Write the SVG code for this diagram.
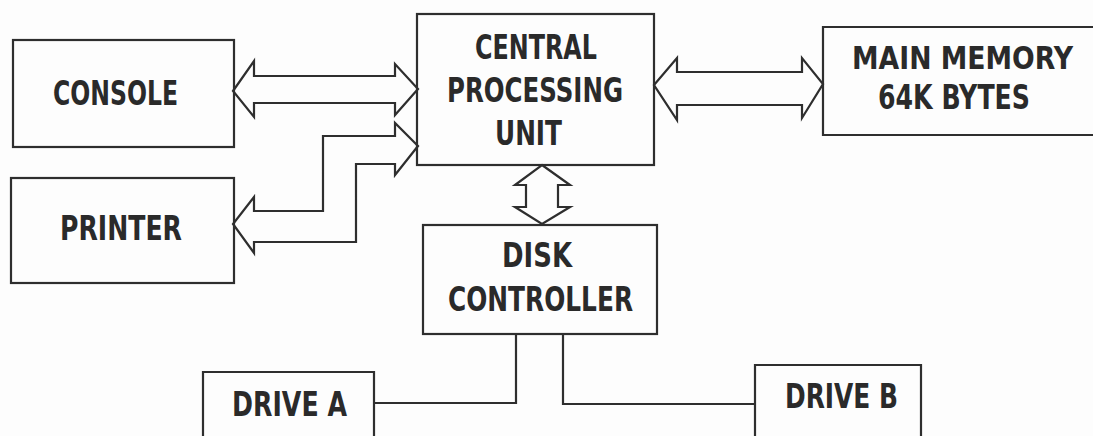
<svg xmlns="http://www.w3.org/2000/svg" width="1093" height="436" viewBox="0 0 1093 436">
<style>
.box{fill:none;stroke:#2e2e2e;stroke-width:2.2}
.con{fill:none;stroke:#2e2e2e;stroke-width:2.2;stroke-linejoin:miter}
.lbl{font-family:"DejaVu Sans Condensed","Liberation Sans",sans-serif;font-weight:bold;font-size:33px;fill:#2a2a2a}
.sm{font-size:32px}
</style>
<rect x="0" y="0" width="1093" height="436" fill="#fdfdfd"/>
<g id="connectors">
<polygon class="con" points="233,91 254,61 254,76 395,76 395,64 418,89 395,115 395,103 254,103 254,117"/>
<polygon class="con" points="418,146 395,123 395,136 323,136 323,211 254,211 254,197 233,224 254,253 254,242 356,242 356,164 395,164 395,175"/>
<polygon class="con" points="654,85 677,58 677,72 802,72 802,58 823,84 802,118 802,105 677,105 677,120"/>
<polygon class="con" points="542,165 570,185 558,185 558,207 570,207 542,224 515,207 526,207 526,185 515,185"/>
<polyline class="con" points="516,334 516,403 374,403"/>
<polyline class="con" points="563,334 563,404 755,404"/>
</g>
<g id="console">
<rect class="box" x="13" y="40" width="221" height="107"/>
<text class="lbl" x="53" y="105" textLength="125" lengthAdjust="spacingAndGlyphs">CONSOLE</text>
</g>
<g id="printer">
<rect class="box" x="11" y="178" width="223" height="105"/>
<text class="lbl" x="60" y="240" textLength="122" lengthAdjust="spacingAndGlyphs">PRINTER</text>
</g>
<g id="cpu">
<rect class="box" x="417" y="14" width="237" height="151"/>
<text class="lbl" x="475" y="59" textLength="122" lengthAdjust="spacingAndGlyphs">CENTRAL</text>
<text class="lbl" x="447" y="102" textLength="176" lengthAdjust="spacingAndGlyphs">PROCESSING</text>
<text class="lbl" x="495" y="145" textLength="67" lengthAdjust="spacingAndGlyphs">UNIT</text>
</g>
<g id="memory">
<path class="box" d="M1093,27 H823 V135 H1093"/>
<text class="lbl sm" x="852" y="69" textLength="221" lengthAdjust="spacingAndGlyphs">MAIN MEMORY</text>
<text class="lbl" x="878" y="109" textLength="152" lengthAdjust="spacingAndGlyphs">64K BYTES</text>
</g>
<g id="disk">
<rect class="box" x="423" y="225" width="234" height="109"/>
<text class="lbl" x="502" y="267" textLength="70" lengthAdjust="spacingAndGlyphs">DISK</text>
<text class="lbl" x="448" y="311" textLength="185" lengthAdjust="spacingAndGlyphs">CONTROLLER</text>
</g>
<g id="driveA">
<path class="box" d="M203,436 V372 H374 V436"/>
<text class="lbl" x="232" y="416" textLength="115" lengthAdjust="spacingAndGlyphs">DRIVE A</text>
</g>
<g id="driveB">
<path class="box" d="M755,436 V365 H921 V436"/>
<text class="lbl" x="785" y="408" textLength="113" lengthAdjust="spacingAndGlyphs">DRIVE B</text>
</g>
</svg>
